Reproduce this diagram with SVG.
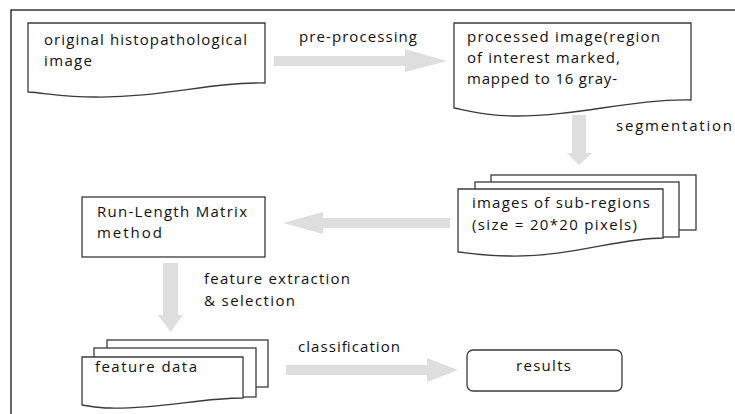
<svg xmlns="http://www.w3.org/2000/svg" width="735" height="414" viewBox="0 0 735 414">
  <style>
    .doc { fill: #ffffff; stroke: #3a3a3a; stroke-width: 1.3; }
    .box { fill: #ffffff; stroke: #3a3a3a; stroke-width: 1.3; }
    .arrow { fill: #dedede; stroke: none; }
    text { font-family: "Open Sans", "Liberation Sans", sans-serif; font-size: 15px; fill: #111111; }
  </style>

  <rect width="735" height="414" fill="#ffffff"/>
  <!-- frame -->
  <rect x="11" y="10" width="740" height="420" fill="none" stroke="#000000" stroke-width="1.2"/>

  <!-- block arrows -->
  <g id="connectors">
    <polygon class="arrow" points="274,56 405,56 405,49 447,61 405,72 405,66 274,66"/>
    <polygon class="arrow" points="572,115 586,115 586,153 592,153 579,165 567,153 572,153"/>
    <polygon class="arrow" points="450,218 323,218 323,212 283,223 323,234 323,228 450,228"/>
    <polygon class="arrow" points="163,263 178,263 178,315 183,315 170.5,332 158,315 163,315"/>
    <polygon class="arrow" points="286,365 427,365 427,358 458,370 427,382 427,375 286,375"/>
    <text x="299" y="42" textLength="118" lengthAdjust="spacing">pre-processing</text>
    <text x="616" y="131" textLength="116" lengthAdjust="spacing">segmentation</text>
    <text x="204" y="284" textLength="146" lengthAdjust="spacing">feature extraction</text>
    <text x="204" y="306" textLength="91" lengthAdjust="spacing">&amp; selection</text>
    <text x="298" y="352" textLength="102" lengthAdjust="spacing">classification</text>
  </g>

  <g id="original-image">
    <path class="doc" d="M28,23 H265 V83 C210,82 160,98 95,97 C65,97 45,93 28,92 Z"/>
    <text x="44" y="45" textLength="203" lengthAdjust="spacing">original histopathological</text>
    <text x="44" y="66" textLength="48" lengthAdjust="spacing">image</text>
  </g>

  <g id="processed-image">
    <path class="doc" d="M454,23 H691 V100 C630,99 580,116 515,116 C485,116 465,110 454,108 Z"/>
    <text x="467" y="42" textLength="193" lengthAdjust="spacing">processed image(region</text>
    <text x="467" y="63" textLength="153" lengthAdjust="spacing">of interest marked,</text>
    <text x="467" y="84" textLength="150" lengthAdjust="spacing">mapped to 16 gray-</text>
  </g>

  <g id="sub-regions">
    <rect class="box" x="491" y="175" width="205" height="55"/>
    <rect class="box" x="475" y="182" width="204" height="55"/>
    <path class="doc" d="M458,189 H663 V238 C620,238 570,257 510,256 C485,256 468,253 458,252 Z"/>
    <text x="472" y="208" textLength="178" lengthAdjust="spacing">images of sub-regions</text>
    <text x="472" y="230" textLength="165" lengthAdjust="spacing">(size = 20*20 pixels)</text>
  </g>

  <g id="run-length">
    <rect class="box" x="82" y="197" width="183" height="60"/>
    <text x="97" y="217" textLength="150" lengthAdjust="spacing">Run-Length Matrix</text>
    <text x="97" y="238" textLength="65" lengthAdjust="spacing">method</text>
  </g>

  <g id="feature-data">
    <rect class="box" x="107" y="340" width="161" height="47"/>
    <rect class="box" x="94" y="348" width="162" height="49"/>
    <path class="doc" d="M82,357 H243 V398 C200,398 160,409 110,408 C98,408 90,406 82,405 Z"/>
    <text x="95" y="372" textLength="102" lengthAdjust="spacing">feature data</text>
  </g>

  <g id="results">
    <rect class="box" x="467" y="350" width="155" height="41" rx="6" stroke="#555555"/>
    <text x="516" y="371" textLength="55" lengthAdjust="spacing">results</text>
  </g>
</svg>
